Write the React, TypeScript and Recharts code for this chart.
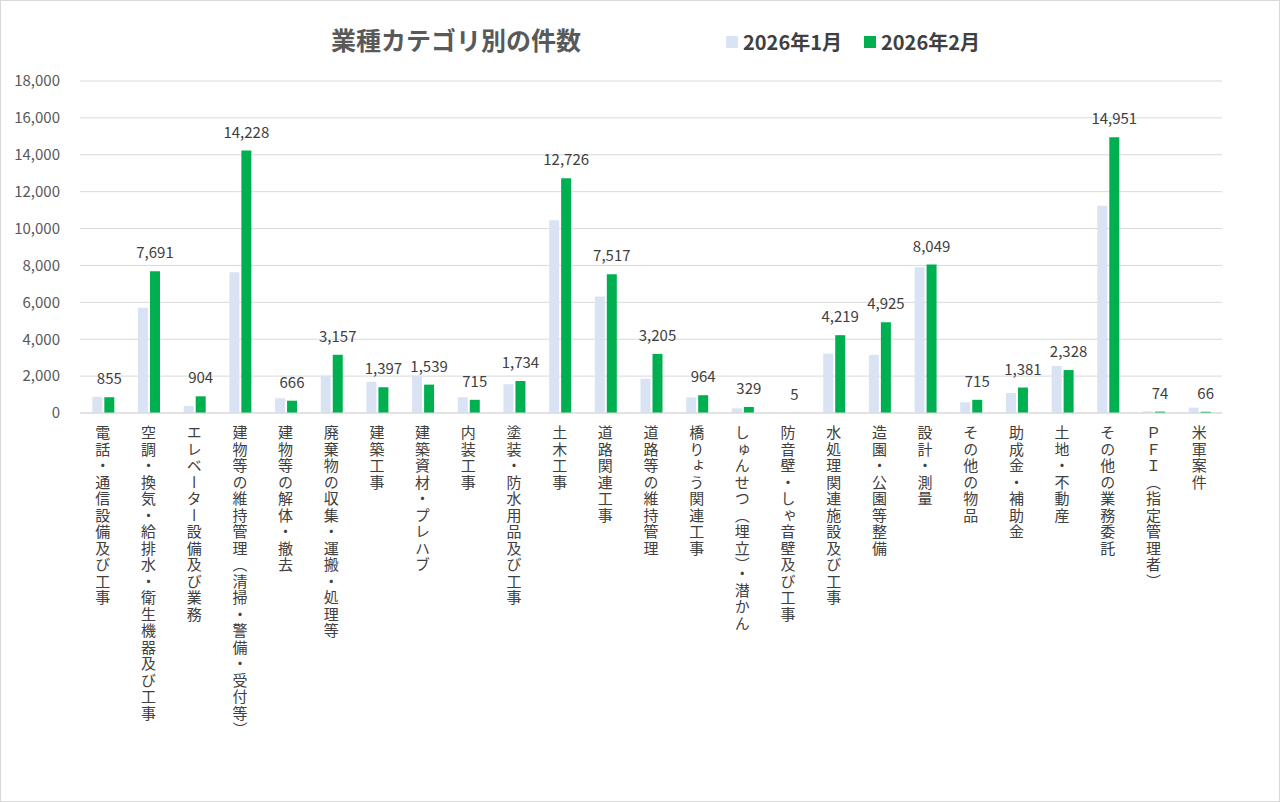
import React from "react"
import { Bar, BarChart, CartesianGrid, LabelList, XAxis, YAxis } from "recharts"

const categories = [
  "電話・通信設備及び工事",
  "空調・換気・給排水・衛生機器及び工事",
  "エレベーター設備及び業務",
  "建物等の維持管理（清掃・警備・受付等）",
  "建物等の解体・撤去",
  "廃棄物の収集・運搬・処理等",
  "建築工事",
  "建築資材・プレハブ",
  "内装工事",
  "塗装・防水用品及び工事",
  "土木工事",
  "道路関連工事",
  "道路等の維持管理",
  "橋りょう関連工事",
  "しゅんせつ（埋立）・潜かん",
  "防音壁・しゃ音壁及び工事",
  "水処理関連施設及び工事",
  "造園・公園等整備",
  "設計・測量",
  "その他の物品",
  "助成金・補助金",
  "土地・不動産",
  "その他の業務委託",
  "ＰＦＩ（指定管理者）",
  "米軍案件",
]

// january values (no labels in the source)
const jan = [
  880, 5700, 380, 7630, 800, 2030, 1690, 2030, 850, 1560, 10450, 6320, 1860, 850, 250, 20,
  3220, 3150, 7900, 580, 1090, 2550, 11240, 90, 290,
]
const feb = [
  855, 7691, 904, 14228, 666, 3157, 1397, 1539, 715, 1734, 12726, 7517, 3205, 964, 329, 5,
  4219, 4925, 8049, 715, 1381, 2328, 14951, 74, 66,
]

const yTicks = [0, 2000, 4000, 6000, 8000, 10000, 12000, 14000, 16000, 18000]

const rows = categories.map((name, i) => ({ name, jan: jan[i], feb: feb[i] }))

const FONT = "'Noto Sans CJK JP', 'Noto Sans', sans-serif"
const JAN_COLOR = "#dae3f3"
const FEB_COLOR = "#00b050"

const fmt = (v: number) => v.toLocaleString("en-US")

const CategoryTick = (props: any) => {
  const { x, y, payload } = props
  return (
    <text
      x={x}
      y={y + 4}
      fill="#404040"
      fontSize={15}
      fontFamily={FONT}
      letterSpacing={1.5}
      style={{ writingMode: "vertical-rl" as any }}
    >
      {payload.value}
    </text>
  )
}

export default function App() {
  return (
    <div
      style={{
        position: "fixed",
        top: 0,
        left: 0,
        width: 1280,
        height: 802,
        background: "#fff",
        boxSizing: "border-box",
        border: "1px solid #d9d9d9",
      }}
    >
      <div
        style={{
          position: "absolute",
          top: 20,
          left: 330,
          fontFamily: FONT,
          fontSize: 25,
          fontWeight: 700,
          color: "#595959",
          whiteSpace: "nowrap",
          lineHeight: "36px",
        }}
      >
        業種カテゴリ別の件数
      </div>
      <div
        style={{
          position: "absolute",
          top: 25,
          left: 725,
          display: "flex",
          alignItems: "center",
          fontFamily: FONT,
          fontSize: 20,
          fontWeight: 700,
          color: "#404040",
          lineHeight: "32px",
        }}
      >
        <span style={{ width: 12, height: 12, background: JAN_COLOR, marginRight: 5 }} />
        <span style={{ marginRight: 22 }}>2026年1月</span>
        <span style={{ width: 12, height: 12, background: FEB_COLOR, marginRight: 5 }} />
        <span>2026年2月</span>
      </div>
      <BarChart
        width={1278}
        height={800}
        data={rows}
        margin={{ top: 80, right: 57, left: 0, bottom: 0 }}
        barCategoryGap="27%"
        barGap={2}
      >
        <CartesianGrid vertical={false} stroke="#d9d9d9" />
        <XAxis
          dataKey="name"
          interval={0}
          height={388}
          tick={<CategoryTick />}
          tickLine={false}
          axisLine={{ stroke: "#d9d9d9" }}
        />
        <YAxis
          width={79}
          domain={[0, 18000]}
          ticks={yTicks}
          tickFormatter={fmt}
          axisLine={false}
          tickLine={false}
          tick={{ fill: "#595959", fontSize: 15, fontFamily: FONT }}
          tickMargin={14}
        />
        <Bar dataKey="jan" name="2026年1月" fill={JAN_COLOR} isAnimationActive={false} />
        <Bar dataKey="feb" name="2026年2月" fill={FEB_COLOR} isAnimationActive={false}>
          <LabelList
            dataKey="feb"
            position="top"
            offset={13}
            formatter={(v: any) => fmt(Number(v))}
            fill="#404040"
            fontSize={15}
            fontFamily={FONT}
          />
        </Bar>
      </BarChart>
    </div>
  )
}
